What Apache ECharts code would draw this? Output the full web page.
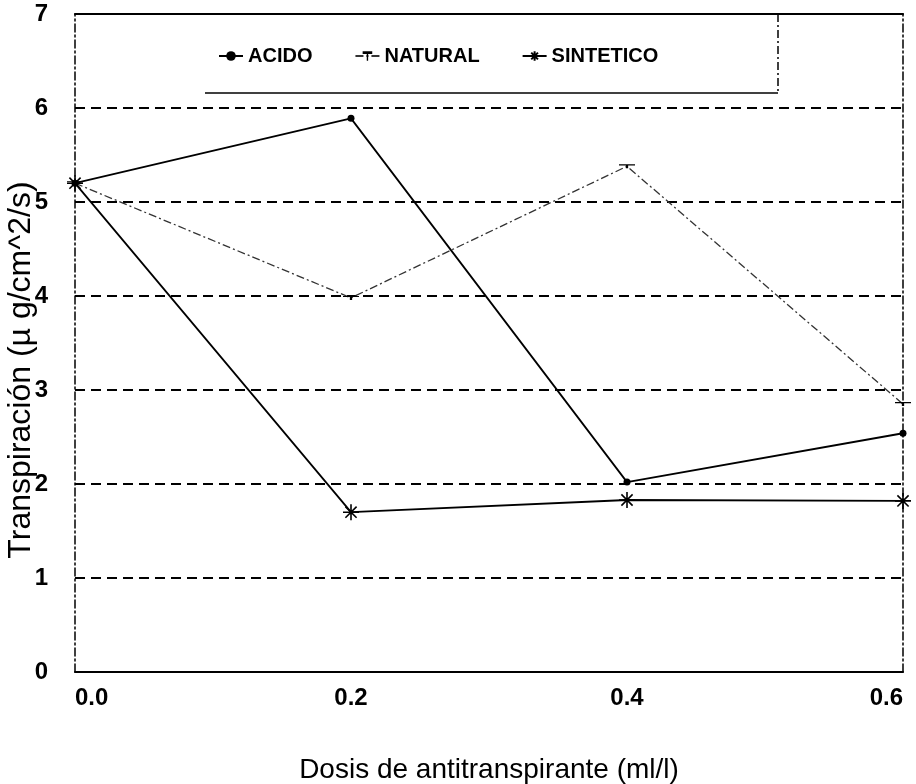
<!DOCTYPE html>
<html>
<head>
<meta charset="utf-8">
<script src="https://cdn.jsdelivr.net/npm/echarts@6/dist/echarts.min.js"></script>
<style>
  html, body { margin: 0; padding: 0; background: #fff; }
  #chart { width: 916px; height: 784px; }
</style>
</head>
<body>
<div id="chart"></div>
<script>
// Transpiration vs. antitranspirant dose, three product types
const doses = [0.0, 0.2, 0.4, 0.6];
const acido = [5.2, 5.89, 2.02, 2.54];
const natural = [5.2, 3.98, 5.38, 2.85];
const sintetico = [5.2, 1.70, 1.83, 1.82];
const yTicks = [0, 1, 2, 3, 4, 5, 6, 7];

const FONT = '"Liberation Sans", Arial, sans-serif';
const dashDot = [8, 3, 2, 3];

const teeMarker = 'path://M0,0 L14,0 L14,2 L8,2 L8,7 L6,7 L6,2 L0,2 Z';
const starMarker = 'path://M0,10 L20,10 M10,0 L10,20 M3,3 L17,17 M17,3 L3,17';

const pairs = arr => doses.map((d, i) => [d, arr[i]]);

const chart = echarts.init(document.getElementById('chart'), null, { renderer: 'canvas' });

chart.setOption({
  backgroundColor: '#ffffff',
  animation: false,
  grid: {
    left: 75, right: 13, top: 14, bottom: 112,
    show: false, containLabel: false, outerBoundsMode: 'none'
  },
  legend: {
    left: 213,
    top: 41,
    itemWidth: 24,
    itemHeight: 12,
    itemGap: 42,
    textStyle: { fontFamily: FONT, fontSize: 20, fontWeight: 'bold', color: '#000' },
    data: ['ACIDO', 'NATURAL', 'SINTETICO']
  },
  graphic: [
    { type: 'line', shape: { x1: 205, y1: 93, x2: 778, y2: 93 },
      style: { stroke: '#000', lineWidth: 1.5 }, z: 10 },
    { type: 'line', shape: { x1: 778, y1: 14, x2: 778, y2: 93 },
      style: { stroke: '#000', lineWidth: 1.5, lineDash: dashDot }, z: 10 }
  ],
  xAxis: [
    {
      type: 'value', min: 0, max: 0.6, interval: 0.2, position: 'bottom',
      name: 'Dosis de antitranspirante (ml/l)',
      nameLocation: 'middle', nameGap: 84, nameMoveOverlap: false,
      nameTextStyle: { fontFamily: FONT, fontSize: 28, color: '#000' },
      axisLine: { show: true, onZero: false, lineStyle: { color: '#000', width: 2 } },
      axisTick: { show: false },
      splitLine: { show: false },
      axisLabel: {
        fontFamily: FONT, fontSize: 24, fontWeight: 'bold', color: '#000', margin: 14,
        alignMinLabel: 'left', alignMaxLabel: 'right',
        formatter: v => v.toFixed(1)
      }
    },
    {
      type: 'value', min: 0, max: 0.6, interval: 0.2, position: 'top',
      axisLine: { show: true, onZero: false, lineStyle: { color: '#000', width: 2 } },
      axisTick: { show: false }, axisLabel: { show: false }, splitLine: { show: false }
    }
  ],
  yAxis: [
    {
      type: 'value', min: 0, max: 7, interval: 1, position: 'left',
      name: 'Transpiración (\u00b5 g/cm^2/s)',
      nameLocation: 'middle', nameGap: 38, nameMoveOverlap: false,
      nameTextStyle: { fontFamily: FONT, fontSize: 32, color: '#000', padding: [0, 54, 0, 0] },
      axisLine: { show: true, onZero: false, lineStyle: { color: '#000', width: 1.5, type: dashDot } },
      axisTick: { show: false },
      axisLabel: {
        fontFamily: FONT, fontSize: 24, fontWeight: 'bold', color: '#000', margin: 27,
        formatter: v => (yTicks.includes(v) ? String(v) : '')
      },
      splitLine: { show: true, lineStyle: { color: '#000', width: 2, type: [10, 6] } }
    },
    {
      type: 'value', min: 0, max: 7, interval: 1, position: 'right',
      axisLine: { show: true, onZero: false, lineStyle: { color: '#000', width: 1.5, type: dashDot } },
      axisTick: { show: false }, axisLabel: { show: false }, splitLine: { show: false }
    }
  ],
  series: [
    {
      name: 'ACIDO', type: 'line', data: pairs(acido),
      symbol: 'circle', symbolSize: 7,
      lineStyle: { color: '#000', width: 1.8 },
      itemStyle: { color: '#000' }, z: 5
    },
    {
      name: 'NATURAL', type: 'line', data: pairs(natural),
      symbol: teeMarker, symbolSize: [16, 8], symbolKeepAspect: true,
      lineStyle: { color: '#333', width: 1.3, type: dashDot },
      itemStyle: { color: '#000' }, z: 4
    },
    {
      name: 'SINTETICO', type: 'line', data: pairs(sintetico),
      symbol: starMarker, symbolSize: 16, symbolKeepAspect: true,
      lineStyle: { color: '#000', width: 1.8 },
      itemStyle: { color: '#000', borderColor: '#000', borderWidth: 1.6 }, z: 5
    }
  ]
});
</script>
</body>
</html>
